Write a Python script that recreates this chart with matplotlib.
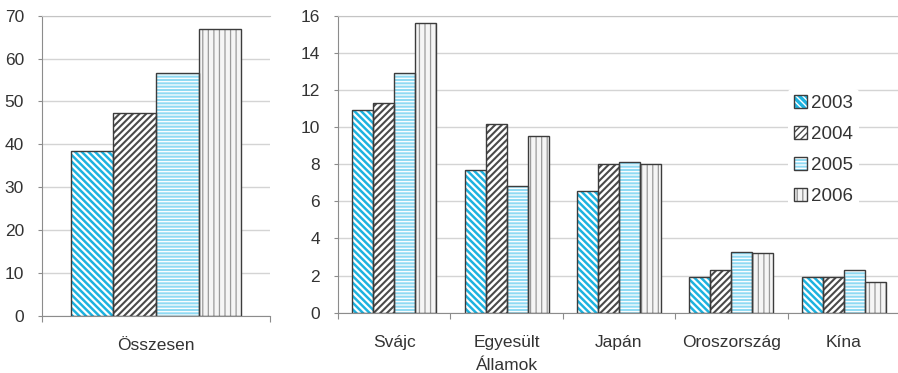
import matplotlib
matplotlib.use("Agg")
import matplotlib.pyplot as plt
import numpy as np

plt.rcParams['font.family'] = ['Liberation Sans', 'DejaVu Sans']

years = ['2003', '2004', '2005', '2006']
total = [38.4, 47.4, 56.7, 67.0]

countries = ['Svájc', 'Egyesült\nÁllamok', 'Japán', 'Oroszország', 'Kína']
v2003 = [10.9, 7.7, 6.55, 1.92, 1.92]
v2004 = [11.3, 10.15, 8.0, 2.3, 1.92]
v2005 = [12.9, 6.85, 8.1, 3.27, 2.3]
v2006 = [15.6, 9.5, 8.0, 3.2, 1.68]
series = [v2003, v2004, v2005, v2006]

# fill colour, hatch colour, hatch pattern, hatch line width
styles = [
    ('#1db2df', 'white', '\\' * 5, 1.6),
    ('white', '#4a4a4a', '/' * 5, 1.5),
    ('#8fdaf3', 'white', '-----', 0.9),
    ('#f5f5f5', '#9a9a9a', '|||', 0.9),
]
OUTLINE = '#3c3c3c'
TEXT = '#333333'
GRID = '#d4d4d4'
SPINE = '#8c8c8c'

W, H = 898, 373
fig = plt.figure(figsize=(W / 100, H / 100), dpi=100)

ax1 = fig.add_axes([42 / W, (H - 315.7) / H, 228 / W, 300 / H])
ax2 = fig.add_axes([338 / W, (H - 312.7) / H, 562 / W, 297 / H])

bw = 0.1865


def hatched_bars(ax, x, vals, i):
    face, hcol, hatch, hlw = styles[i]
    with plt.rc_context({'hatch.linewidth': hlw}):
        b = ax.bar(x, vals, bw, color=face, edgecolor=hcol, linewidth=0,
                   hatch=hatch, zorder=2)
        for p in b:
            if hasattr(p, 'set_hatch_linewidth'):
                p.set_hatch_linewidth(hlw)
    o = ax.bar(x, vals, bw, fill=False, edgecolor=OUTLINE, linewidth=1.0,
               zorder=3)
    return b, o


def style_axis(ax, ymax, ystep):
    ax.set_ylim(0, ymax)
    ax.set_yticks(np.arange(0, ymax + 0.1, ystep))
    ax.yaxis.grid(True, color=GRID, linewidth=1.0, zorder=0)
    ax.set_axisbelow(True)
    ax.spines['right'].set_visible(False)
    ax.spines['top'].set_color('#c4c4c4')
    ax.spines['left'].set_color(SPINE)
    ax.spines['bottom'].set_color(SPINE)
    ax.tick_params(axis='y', length=3, color=SPINE, labelsize=12.5,
                   labelcolor=TEXT, pad=10)
    ax.tick_params(axis='x', which='major', length=4, color=SPINE,
                   labelbottom=False)
    ax.tick_params(axis='x', which='minor', length=0, labelsize=12.5,
                   labelcolor=TEXT, pad=16)


# Left panel: overall totals
for i in range(4):
    hatched_bars(ax1, [(i - 1.5) * bw], [total[i]], i)
ax1.set_xlim(-0.5, 0.5)
style_axis(ax1, 70, 10)
ax1.set_xticks([-0.5, 0.5])
ax1.set_xticks([0], minor=True)
ax1.set_xticklabels(['Összesen'], minor=True)

# Right panel: by country
xs = np.arange(len(countries))
handles = []
for i in range(4):
    b, o = hatched_bars(ax2, xs + (i - 1.5) * bw, series[i], i)
    handles.append((b[0], o[0]))
ax2.set_xlim(-0.5, len(countries) - 0.5)
style_axis(ax2, 16, 2)
ax2.set_xticks(np.arange(-0.5, len(countries), 1.0))
ax2.set_xticks(xs, minor=True)
ax2.set_xticklabels(countries, minor=True, linespacing=1.7)
for t in ax2.get_xticklabels(minor=True):
    t.set_verticalalignment('top')

leg = ax2.legend(handles, years, loc='upper left',
                 bbox_to_anchor=(788 / W, (H - 89) / H),
                 bbox_transform=fig.transFigure,
                 frameon=True, fontsize=13.5, handlelength=0.7,
                 handleheight=0.7, handletextpad=0.25, labelspacing=0.75,
                 borderpad=0.3, borderaxespad=0)
leg.get_frame().set_facecolor('white')
leg.get_frame().set_edgecolor('none')
leg.get_frame().set_alpha(1)
for t in leg.get_texts():
    t.set_color(TEXT)

fig.savefig('out.png', dpi=100)
